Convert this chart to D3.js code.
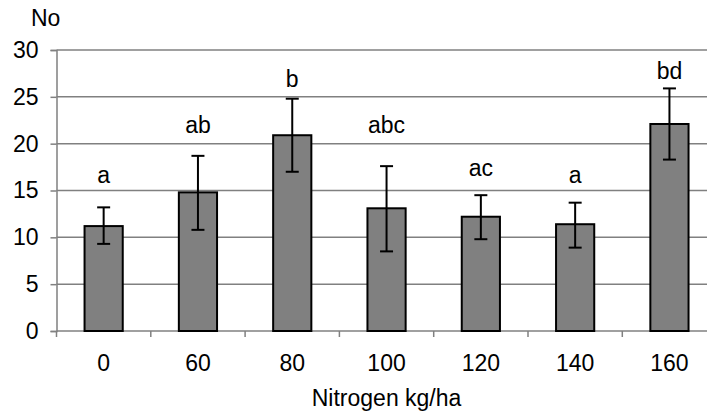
<!DOCTYPE html>
<html lang="en">
<head>
  <meta charset="UTF-8">
  <title>Nitrogen bar chart</title>
  <script src="https://d3js.org/d3.v7.min.js"></script>
  <style>
    body { margin: 0; background: #fff; }
    svg text { font-family: "Liberation Sans", Arial, sans-serif; fill: #000; }
  </style>
</head>
<body>
  <div id="chart"></div>
  <script>
    // Data
    const categories = ["0", "60", "80", "100", "120", "140", "160"];
    const means = [11.2, 14.8, 20.9, 13.1, 12.2, 11.4, 22.1];
    const errLow = [9.3, 10.8, 17.0, 8.5, 9.8, 8.9, 18.3];
    const errHigh = [13.2, 18.7, 24.8, 17.6, 14.5, 13.7, 25.9];
    const letters = ["a", "ab", "b", "abc", "ac", "a", "bd"];
    const letterLevel = [15.8, 21.1, 26.0, 21.1, 16.6, 15.8, 26.9];
    const yTicks = [0, 5, 10, 15, 20, 25, 30];

    const width = 707;
    const height = 414;
    const fontSize = 23;

    const svg = d3.select("#chart")
      .append("svg")
      .attr("width", width)
      .attr("height", height);

    const x = d3.scaleBand()
      .domain(categories)
      .range([56.5, 716.6])
      .paddingInner(0)
      .paddingOuter(0);

    const y = d3.scaleLinear()
      .domain([0, 30])
      .range([331, 50]);

    // Gridlines
    svg.append("g")
      .selectAll("line")
      .data(yTicks.filter(d => d > 0))
      .enter()
      .append("line")
      .attr("x1", 56.5)
      .attr("x2", 716.6)
      .attr("y1", d => y(d))
      .attr("y2", d => y(d))
      .attr("stroke", "#808080")
      .attr("stroke-width", 1.5);

    // Y axis
    const yAxis = d3.axisLeft(y)
      .tickValues(yTicks)
      .tickSize(6)
      .tickPadding(12);

    const gy = svg.append("g")
      .attr("transform", "translate(56.5,0)")
      .call(yAxis);
    gy.select(".domain").attr("stroke", "#808080").attr("stroke-width", 1.5);
    gy.selectAll(".tick line").attr("stroke", "#808080").attr("stroke-width", 1.5);
    gy.selectAll(".tick text")
      .style("font-size", fontSize + "px")
      .attr("fill", "#000");

    // X axis: ticks at band edges
    svg.append("line")
      .attr("x1", 56.5)
      .attr("x2", 716.6)
      .attr("y1", y(0))
      .attr("y2", y(0))
      .attr("stroke", "#808080")
      .attr("stroke-width", 1.5);

    svg.append("g")
      .selectAll("line")
      .data(categories)
      .enter()
      .append("line")
      .attr("x1", d => x(d))
      .attr("x2", d => x(d))
      .attr("y1", y(0))
      .attr("y2", y(0) + 6)
      .attr("stroke", "#808080")
      .attr("stroke-width", 1.5);

    svg.append("g")
      .selectAll("text")
      .data(categories)
      .enter()
      .append("text")
      .attr("x", d => x(d) + x.bandwidth() / 2)
      .attr("y", 371)
      .attr("text-anchor", "middle")
      .style("font-size", fontSize + "px")
      .text(d => d);

    // Bars
    const barW = x.bandwidth() * 0.405;
    svg.append("g")
      .selectAll("rect")
      .data(means)
      .enter()
      .append("rect")
      .attr("x", (d, i) => x(categories[i]) + (x.bandwidth() - barW) / 2)
      .attr("y", d => y(d))
      .attr("width", barW)
      .attr("height", d => y(0) - y(d))
      .attr("fill", "#808080")
      .attr("stroke", "#000")
      .attr("stroke-width", 2);

    // Error bars
    const cap = 6.5;
    const err = svg.append("g")
      .selectAll("g")
      .data(means)
      .enter()
      .append("g")
      .attr("stroke", "#000")
      .attr("stroke-width", 2);

    err.append("line")
      .attr("x1", (d, i) => x(categories[i]) + x.bandwidth() / 2)
      .attr("x2", (d, i) => x(categories[i]) + x.bandwidth() / 2)
      .attr("y1", (d, i) => y(errLow[i]))
      .attr("y2", (d, i) => y(errHigh[i]));

    [errLow, errHigh].forEach(arr => {
      err.append("line")
        .attr("x1", (d, i) => x(categories[i]) + x.bandwidth() / 2 - cap)
        .attr("x2", (d, i) => x(categories[i]) + x.bandwidth() / 2 + cap)
        .attr("y1", (d, i) => y(arr[i]))
        .attr("y2", (d, i) => y(arr[i]));
    });

    // Significance letters
    svg.append("g")
      .selectAll("text")
      .data(letters)
      .enter()
      .append("text")
      .attr("x", (d, i) => x(categories[i]) + x.bandwidth() / 2)
      .attr("y", (d, i) => y(letterLevel[i]))
      .attr("text-anchor", "middle")
      .style("font-size", fontSize + "px")
      .text(d => d);

    // Axis titles
    svg.append("text")
      .attr("x", 31)
      .attr("y", 26)
      .style("font-size", fontSize + "px")
      .text("No");

    svg.append("text")
      .attr("x", (56.5 + 716.6) / 2)
      .attr("y", 406)
      .attr("text-anchor", "middle")
      .style("font-size", fontSize + "px")
      .text("Nitrogen kg/ha");
  </script>
</body>
</html>
